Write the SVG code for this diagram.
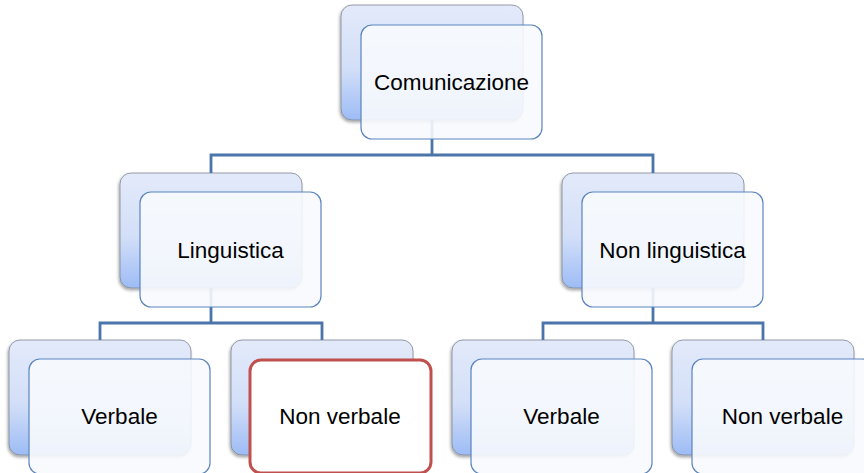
<svg xmlns="http://www.w3.org/2000/svg" width="864" height="473" viewBox="0 0 864 473">
<defs>
<linearGradient id="bg" x1="0" y1="0" x2="0" y2="1">
<stop offset="0" stop-color="#e3eafa"/>
<stop offset="0.55" stop-color="#d3dff8"/>
<stop offset="1" stop-color="#9dbcf5"/>
</linearGradient>
<filter id="sh" x="-10%" y="-10%" width="120%" height="125%">
<feDropShadow dx="-1" dy="2" stdDeviation="1.5" flood-color="#000" flood-opacity="0.35"/>
</filter>
<style>
.back{fill:url(#bg);stroke:#7d8594;stroke-width:0.8;filter:url(#sh)}
.front{fill:#f7f9fd;fill-opacity:0.9;stroke:#5b84bf;stroke-width:1.2}
.hl{fill:#ffffff;stroke:#c0504d;stroke-width:3}
.lbl{font-family:"Liberation Sans",Arial,sans-serif;font-size:22.5px;fill:#000;text-anchor:middle}
.con{fill:none;stroke:#4a74aa;stroke-width:2.8}
</style>
</defs>
<rect width="864" height="473" fill="#ffffff"/>
<g id="backs">
<rect class="back" x="341" y="5" width="182" height="115" rx="11"/>
<rect class="back" x="120" y="173" width="182" height="115" rx="11"/>
<rect class="back" x="562" y="173" width="182" height="115" rx="11"/>
<rect class="back" x="9" y="340" width="182" height="115" rx="11"/>
<rect class="back" x="231" y="340" width="182" height="115" rx="11"/>
<rect class="back" x="452" y="340" width="182" height="115" rx="11"/>
<rect class="back" x="672" y="340" width="182" height="115" rx="11"/>
</g>
<g id="connectors">
<path class="con" d="M432 120 V155"/>
<path class="con" d="M211 173 V155 H653 V173"/>
<path class="con" d="M211 288 V323"/>
<path class="con" d="M100 340 V323 H322 V340"/>
<path class="con" d="M653 288 V323"/>
<path class="con" d="M543 340 V323 H763 V340"/>
</g>
<g id="n-comunicazione">
<rect class="front" x="361" y="25" width="181" height="114" rx="11"/>
<text class="lbl" x="451.5" y="90">Comunicazione</text>
</g>
<g id="n-linguistica">
<rect class="front" x="140" y="192" width="181" height="115" rx="11"/>
<text class="lbl" x="230.5" y="258">Linguistica</text>
</g>
<g id="n-nonlinguistica">
<rect class="front" x="582" y="192" width="181" height="115" rx="11"/>
<text class="lbl" x="672.5" y="258">Non linguistica</text>
</g>
<g id="n-verbale-1">
<rect class="front" x="29" y="359" width="181" height="115" rx="11"/>
<text class="lbl" x="119.5" y="424">Verbale</text>
</g>
<g id="n-nonverbale-1">
<rect class="hl" x="250" y="360" width="181" height="113" rx="11"/>
<text class="lbl" x="340" y="424">Non verbale</text>
</g>
<g id="n-verbale-2">
<rect class="front" x="471" y="359" width="181" height="115" rx="11"/>
<text class="lbl" x="561.5" y="424">Verbale</text>
</g>
<g id="n-nonverbale-2">
<rect class="front" x="692" y="359" width="181" height="115" rx="11"/>
<text class="lbl" x="782.5" y="424">Non verbale</text>
</g>
</svg>
